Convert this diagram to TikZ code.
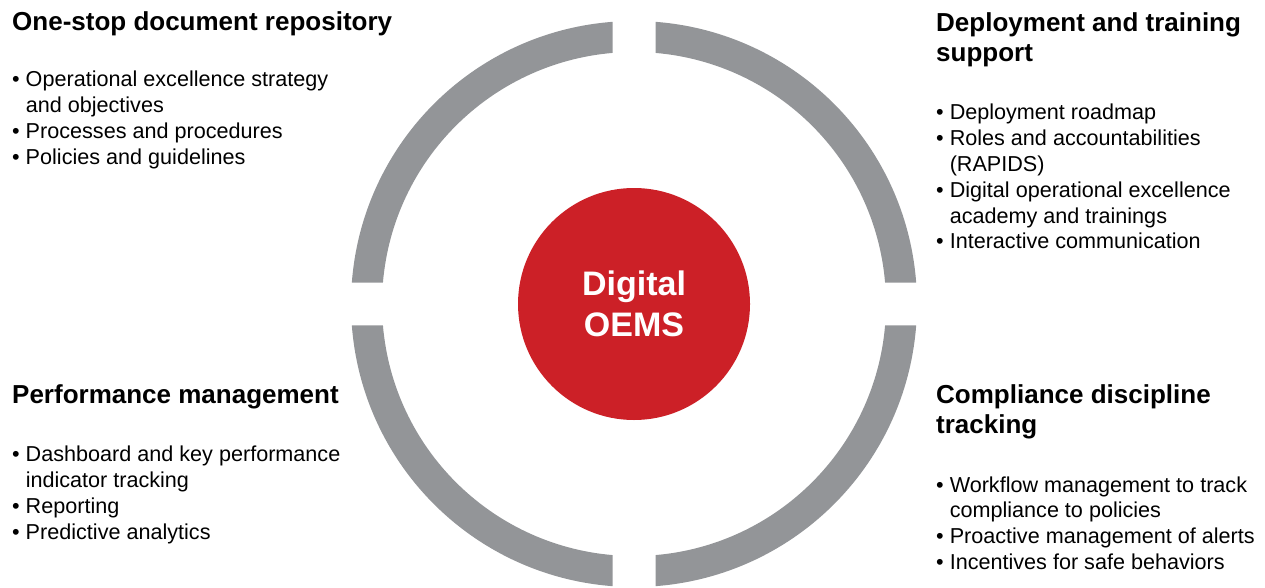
\documentclass[tikz,border=0pt]{standalone}
\usepackage{fontspec}
\setmainfont{Liberation Sans}
\usepackage{tikz}
\usetikzlibrary{positioning}

\definecolor{ringgray}{RGB}{147,149,152}
\definecolor{oemsred}{RGB}{204,32,39}
\newcommand{\bitem}{•\ }
\newcommand{\bcont}{\hphantom{•\ }}

\begin{document}
\begin{tikzpicture}[x=1pt, y=-1pt,
    ring/.style={fill=ringgray},
    hub/.style={circle, fill=oemsred, minimum size=232pt, inner sep=0pt, text=white, align=center, font=\bfseries\fontsize{34}{40.5}\selectfont},
    head/.style={anchor=north west, inner sep=0pt, align=left, font=\bfseries\fontsize{26}{30.5}\selectfont},
    items/.style={inner sep=0pt, align=left, font=\fontsize{21.6}{25.8}\selectfont}]
    \useasboundingbox (0,0) rectangle (1265,588);

    % ring in four pieces
    \coordinate (ctr) at (634,304);
    \pgfmathsetmacro{\ao}{acos(21.5/283)}
    \pgfmathsetmacro{\bo}{asin(21.5/283)}
    \pgfmathsetmacro{\ai}{acos(21.5/252)}
    \pgfmathsetmacro{\bi}{asin(21.5/252)}
    \foreach \r in {0,90,180,270}
        \fill[ring, shift={(ctr)}, rotate=\r] (\ao:283pt) arc[start angle=\ao, end angle=\bo, radius=283pt]
            -- (\bi:252pt) arc[start angle=\bi, end angle=\ai, radius=252pt] -- cycle;

    \node (hub) [hub] at (ctr) {Digital\\OEMS};

    % top left
    \node (repo) [head] at (12,11) {One-stop document repository};
    \node (repoList) [items, below right=35.5pt and 0pt of repo.south west] {\bitem Operational excellence strategy\\\bcont and objectives\\\bitem Processes and procedures\\\bitem Policies and guidelines};

    % top right
    \node (deploy) [head] at (936,12) {Deployment and training\\support};
    \node (deployList) [items, below right=37pt and 0pt of deploy.south west] {\bitem Deployment roadmap\\\bitem Roles and accountabilities\\\bcont (RAPIDS)\\\bitem Digital operational excellence\\\bcont academy and trainings\\\bitem Interactive communication};

    % bottom left
    \node (perf) [head] at (12,384) {Performance management};
    \node (perfList) [items, below right=37pt and 0pt of perf.south west] {\bitem Dashboard and key performance\\\bcont indicator tracking\\\bitem Reporting\\\bitem Predictive analytics};

    % bottom right
    \node (comp) [head] at (936,384) {Compliance discipline\\tracking};
    \node (compList) [items, below right=37pt and 0pt of comp.south west] {\bitem Workflow management to track\\\bcont compliance to policies\\\bitem Proactive management of alerts\\\bitem Incentives for safe behaviors};
\end{tikzpicture}
\end{document}
